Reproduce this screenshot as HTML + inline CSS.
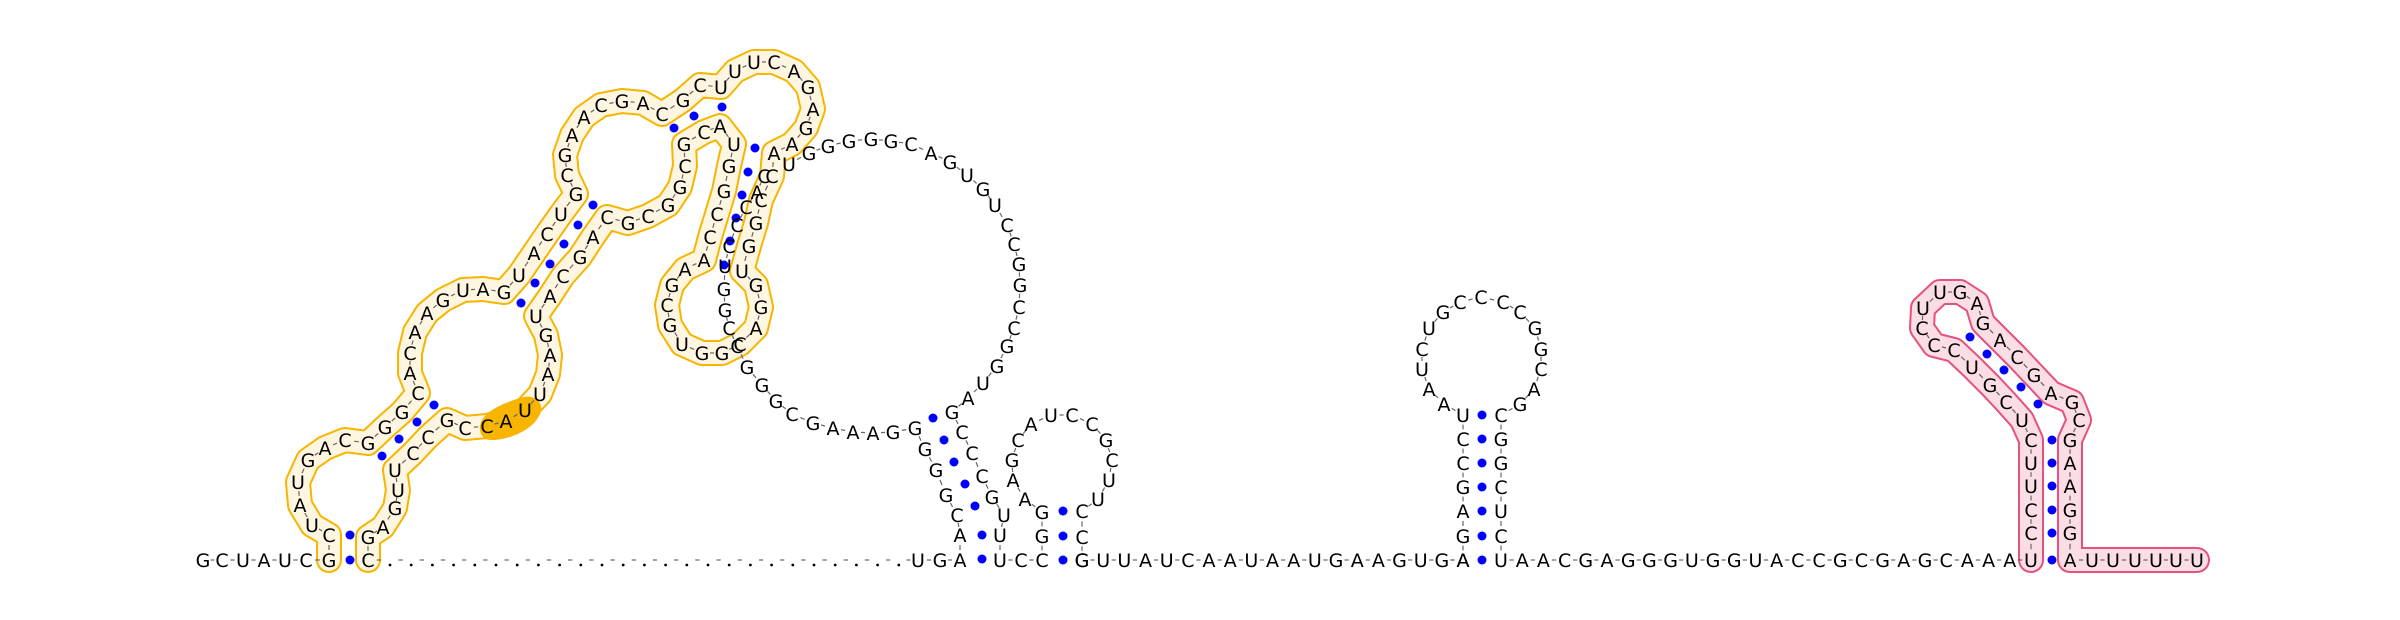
<!DOCTYPE html>
<html><head><meta charset="utf-8"><title>RNA secondary structure</title>
<style>
html,body{margin:0;padding:0;background:#fff;}
svg{display:block;}
text{font-family:"DejaVu Sans","Liberation Sans",sans-serif;font-size:19px;fill:#000;}
</style></head>
<body>
<svg id="chart" width="2400" height="620" viewBox="0 0 2400 620" xmlns="http://www.w3.org/2000/svg">
<rect width="2400" height="620" fill="#fff"/>
<g id="bands"></g>
<g id="blob"></g>
<g id="backbone"></g>
<g id="pairs"></g>
<g id="letters"></g>
</svg>
<script>
// chains: sequence letters with their drawn positions
const yellowSeq = "GCUAUGACGGGCACAAGUAGUACUGCGAACGACGCUUUCAGAGAACCGGUGGACGGUGCGAACCGGUACGCGGCGCAGCAUGAAUUACCGCCUUGAGC";
const yellowPts = [[329,560],[329,535],[312,525],[300,505],[298,482],[308,460],[325,448],[345,440],[368,443],[385,427],[402,412],[418,393],[410,373],[410,353],[415,332],[427,313],[443,300],[463,290],[483,289],[504,292],[519,275],[534,253],[547,234],[561,214],[576,194],[567,175],[565,155],[572,135],[584,117],[601,105],[622,101],[643,103],[662,114],[683,100],[700,85],[721,87],[735,71],[754,62],[774,62],[794,71],[808,87],[813,109],[806,128],[792,144],[774,153],[772,176],[761,200],[756,223],[749,246],[742,271],[756,285],[761,307],[756,328],[740,344],[722,353],[702,353],[682,344],[670,325],[667,305],[672,285],[685,269],[704,260],[710,237],[717,214],[724,191],[729,166],[734,144],[720,126],[704,132],[684,144],[685,166],[680,187],[668,205],[648,216],[628,223],[607,217],[593,237],[580,257],[563,276],[550,296],[536,316],[546,335],[550,355],[548,374],[540,394],[525,410],[506,421],[487,426],[465,428],[447,420],[428,437],[413,453],[395,470],[398,490],[395,508],[383,527],[368,537],[368,560]];
const innerSeq = "CACCCUGGCCGGGCGAAAGGGGGCA";
const innerPts = [[764,176],[757,192],[746,207],[737,225],[729,246],[725,266],[724,289],[725,310],[729,328],[737,346],[747,367],[762,385],[776,401],[792,414],[813,423],[833,428],[853,432],[873,433],[893,432],[915,428],[925,449],[936,470],[946,495],[957,515],[960,535]];
const loopSeq = "UGGGGGCAGUGUCCGGCCGGUAGCCCGUU";
const loopPts = [[789,164],[809,153],[828,146],[849,141],[871,139],[891,141],[911,144],[931,153],[950,162],[967,175],[983,189],[995,205],[1007,225],[1014,244],[1019,264],[1020,285],[1019,307],[1014,328],[1007,346],[997,366],[983,383],[968,398],[952,412],[962,432],[972,453],[982,476],[992,497],[1004,515],[1000,535]];
const hp2Seq = "GGAAGCAUCCGCUUCC";
const hp2Pts = [[1042,536],[1042,512],[1025,499],[1013,480],[1012,460],[1018,440],[1031,424],[1051,415],[1072,415],[1092,424],[1106,440],[1112,460],[1109,480],[1098,499],[1082,511],[1082,537]];
const hp3Seq = "GAGCCUAAUCUGCCCCGGCAGCGGCUC";
const hp3Pts = [[1463,536],[1463,511],[1463,487],[1463,463],[1463,439],[1463,415],[1444,404],[1429,389],[1422,369],[1422,349],[1429,328],[1443,312],[1460,302],[1481,297],[1503,302],[1520,312],[1535,328],[1541,349],[1541,369],[1534,389],[1520,404],[1501,415],[1501,439],[1501,463],[1501,487],[1501,511],[1501,536]];
const pinkSeq = "UCCUUCUCGUCCCUUGAGACGAGCGAAGGAUUUUUU";
const pinkPts = [[2031,560],[2031,533],[2031,510],[2031,486],[2031,463],[2031,440],[2022,420],[2006,402],[1990,385],[1972,367],[1954,350],[1934,345],[1922,328],[1923,308],[1940,292],[1960,292],[1977,303],[1983,323],[2000,340],[2017,357],[2034,375],[2051,393],[2072,402],[2079,420],[2070,440],[2070,463],[2070,486],[2070,510],[2070,533],[2070,560],[2092,560],[2113,560],[2135,560],[2156,560],[2176,560],[2197,560]];
// baseline segments
const base5Seq = "GCUAUC";
const base5X = [203,222,243,264,285,306];
const baseSegs = [
  {seq:"UG", x0:918, step:22},
  {seq:"UCC", x0:1000, step:21},
  {seq:"GUUAUCAAUAAUGAAGUGA", x0:1082, step:21.17},
  {seq:"UAACGAGGGUGGUACCGCGAGCAAA", x0:1501, step:21.2}
];
const gapStart = 390, gapCount = 25, gapStep = 21.2;
// base pair dots
const pairDots = [[350,560],[350,535],[382,456],[399,439],[417,422],[434,405],[593,205],[578,225],[564,244],[550,264],[535,283],[521,303],[674,128],[694,116],[722,107],[755,148],[748,172],[742,195],[736,218],[730,241],[724,265],[933,418],[944,440],[954,462],[965,484],[975,506],[982,535],[982,559],[1063,560],[1063,536],[1063,511],[1482,560],[1482,536],[1482,511],[1482,487],[1482,463],[1482,439],[1482,415],[2052,560],[2052,533],[2052,510],[2052,486],[2052,463],[2052,440],[1970,337],[1987,354],[2004,370],[2021,387],[2038,404]];

const NS="http://www.w3.org/2000/svg";
const gB=document.getElementById('bands'), gBl=document.getElementById('blob'), gK=document.getElementById('backbone'), gP=document.getElementById('pairs'), gL=document.getElementById('letters');

function band(pts, stroke, fill, name){
  const d = pts.map(p=>p.join(',')).join(' ');
  const o=document.createElementNS(NS,'polyline');
  o.setAttribute('points',d);o.setAttribute('fill','none');o.setAttribute('stroke',stroke);o.setAttribute('stroke-width','26');o.setAttribute('stroke-linejoin','round');o.setAttribute('stroke-linecap','round');
  
  
  gB.appendChild(o);
  const i=document.createElementNS(NS,'polyline');
  i.setAttribute('points',d);i.setAttribute('fill','none');i.setAttribute('stroke',fill);i.setAttribute('stroke-width','22');i.setAttribute('stroke-linejoin','round');i.setAttribute('stroke-linecap','round');
  
  
  gB.appendChild(i);
}
function dash(a,b){
  const dx=b[0]-a[0], dy=b[1]-a[1];
  const l=document.createElementNS(NS,'line');
  l.setAttribute('x1',a[0]+dx*0.4);l.setAttribute('y1',a[1]+dy*0.4);l.setAttribute('x2',a[0]+dx*0.6);l.setAttribute('y2',a[1]+dy*0.6);
  l.setAttribute('stroke','#666');l.setAttribute('stroke-width','1.2');
  
  
  gK.appendChild(l);
}
function letter(ch,x,y){
  const t=document.createElementNS(NS,'text');
  t.setAttribute('x',x);t.setAttribute('y',y+7);t.setAttribute('text-anchor','middle');
  t.textContent=ch;
  
  
  gL.appendChild(t);
}
function chain(seq,pts,links){
  for(let i=0;i<seq.length && i<pts.length;i++){
    letter(seq[i],pts[i][0],pts[i][1]);
    if(links && i>0) dash(pts[i-1],pts[i]);
  }
}

band(yellowPts,'#f7b500','#fff6e1','yellow-domain');
band(pinkPts,'#e5527c','#fbdde5','pink-domain');

// highlighted CAU blob
const blob=document.createElementNS(NS,'path');
blob.setAttribute('d','M480,430 C478,414 500,404 520,398 C534,393 545,402 540,414 C534,428 515,438 495,440 C486,441 481,437 480,430 Z');
blob.setAttribute('fill','#f7b500');


gBl.appendChild(blob);

chain(yellowSeq,yellowPts,true);
chain(innerSeq,innerPts,true);
chain(loopSeq,loopPts,true);
chain(hp2Seq,hp2Pts,true);
chain(hp3Seq,hp3Pts,true);
chain(pinkSeq,pinkPts,true);
dash(innerPts[innerPts.length-1],[960,560]);
dash(loopPts[loopPts.length-1],[1000,560]);
dash([1042,560],hp2Pts[0]);
dash(hp2Pts[hp2Pts.length-1],[1082,560]);
dash([1463,560],hp3Pts[0]);
dash(hp3Pts[hp3Pts.length-1],[1501,560]);

// baseline
const b5=base5X.map(x=>[x,560]);
chain(base5Seq,b5,true);
dash(b5[b5.length-1],[329,560]);
baseSegs.forEach(s=>{
  const pts=[];
  for(let i=0;i<s.seq.length;i++) pts.push([s.x0+i*s.step,560]);
  chain(s.seq,pts,true);
});
dash([1442,560],[1463,560]);
dash([2009,560],[2031,560]);
// baseline letters that belong to stems
letter('A',960,560); letter('G',1082,560);
letter('A',1463,560);
dash([940,560],[960,560]);

// unresolved gap region (dots)
for(let j=0;j<gapCount;j++){
  const x=gapStart+j*gapStep;
  const c=document.createElementNS(NS,'circle');
  c.setAttribute('cx',x);c.setAttribute('cy',565);c.setAttribute('r','1.4');c.setAttribute('fill','#000');
  
  
  gK.appendChild(c);
  if(j<gapCount-1) dash([x,560],[x+gapStep,560]);
}
dash([368,560],[gapStart,560]);
dash([gapStart+(gapCount-1)*gapStep,560],[918,560]);

pairDots.forEach(p=>{
  const c=document.createElementNS(NS,'circle');
  c.setAttribute('cx',p[0]);c.setAttribute('cy',p[1]);c.setAttribute('r','4.5');c.setAttribute('fill','#0000ff');
  
  
  gP.appendChild(c);
});
</script>
</body></html>
